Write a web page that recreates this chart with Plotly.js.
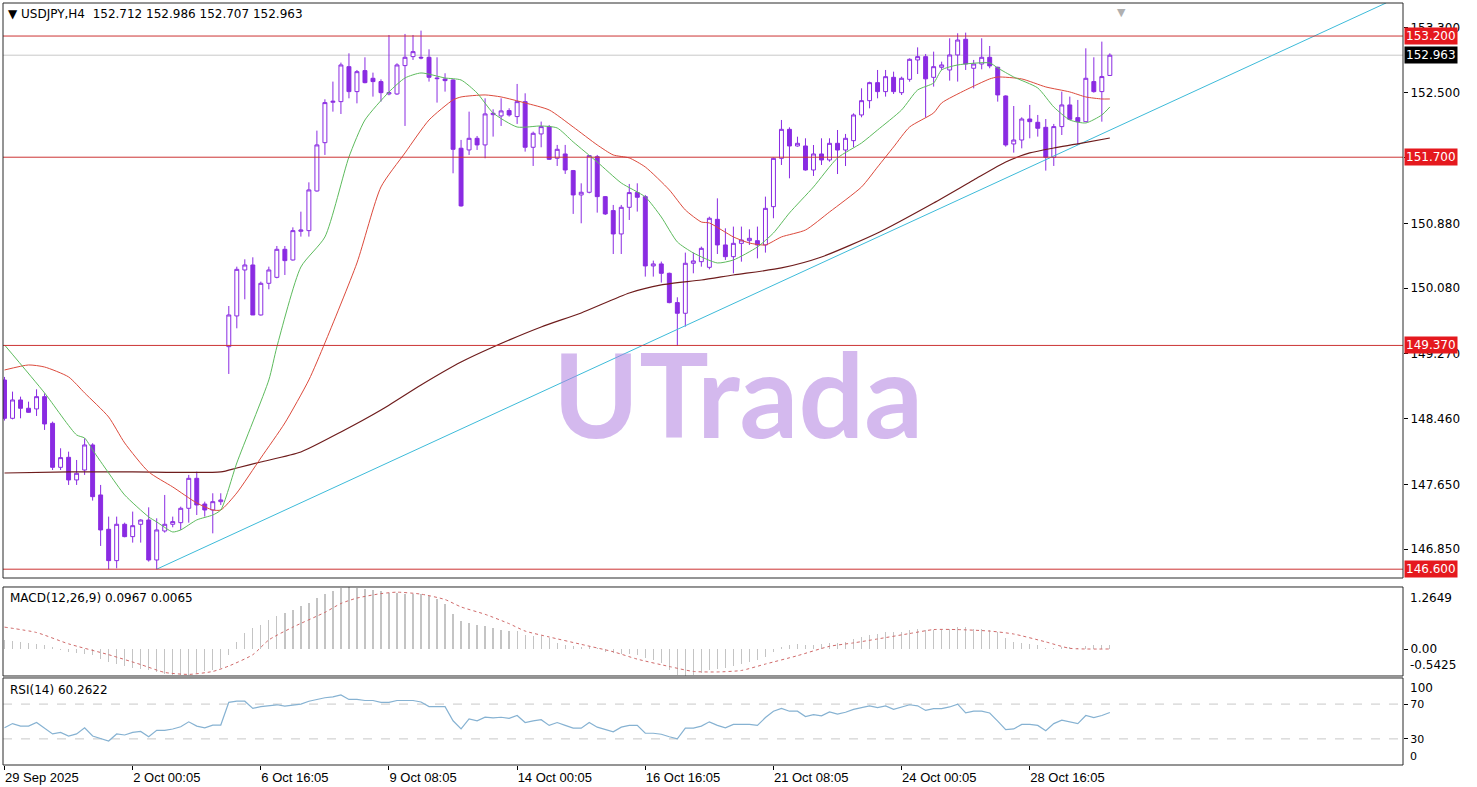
<!DOCTYPE html>
<html><head><meta charset="utf-8">
<script src="https://cdn.plot.ly/plotly-3.0.1.min.js"></script>
<style>html,body{margin:0;padding:0;background:#fff;overflow:hidden}#chart{width:1477px;height:787px}</style>
</head><body><div id="chart"></div>
<script>
// ---- USDJPY H4 candles (bar index 0..138) ----
const open = [148.942,148.468,148.695,148.592,148.584,148.736,148.406,147.861,147.985,147.705,147.828,148.138,147.519,147.094,146.706,147.156,147.003,147.156,147.209,146.714,147.073,147.156,147.176,147.354,147.725,147.407,147.333,147.436,149.355,149.735,150.304,150.366,149.747,150.139,150.213,150.560,150.428,150.783,150.791,151.282,151.880,152.380,152.388,152.821,152.512,152.772,152.677,152.636,152.483,152.483,152.834,152.945,152.937,152.937,152.681,152.669,152.656,151.811,151.790,151.934,151.852,152.227,152.211,152.277,152.203,152.388,151.823,151.988,152.079,151.687,151.740,151.534,151.233,151.266,151.707,151.212,151.039,150.750,151.080,151.262,151.212,150.354,150.379,150.263,149.900,149.768,150.387,150.407,150.337,150.931,150.614,150.469,150.634,150.667,150.667,150.614,151.088,151.686,152.045,151.839,151.839,151.542,151.740,151.666,151.872,151.789,151.905,152.223,152.400,152.623,152.512,152.689,152.499,152.664,152.904,152.945,152.689,152.813,152.780,152.966,153.160,152.801,152.854,152.937,152.813,152.458,151.864,151.913,152.173,152.132,152.070,151.699,152.079,152.347,152.190,152.140,152.636,152.512,152.712];
const high = [148.980,148.798,148.736,148.674,148.827,148.777,148.427,148.097,148.055,147.952,148.220,148.159,147.643,147.251,147.251,147.176,147.313,147.218,147.366,147.230,147.519,147.251,147.374,147.767,147.808,147.436,147.540,147.540,149.858,150.345,150.436,150.461,150.160,150.345,150.601,150.601,150.832,151.026,151.389,152.029,152.417,152.636,152.871,152.986,152.780,152.937,152.747,152.664,153.213,152.863,153.226,153.213,153.267,153.036,152.937,152.739,152.665,151.914,152.264,151.963,152.429,152.293,152.429,152.306,152.607,152.491,152.017,152.141,152.099,151.852,151.852,151.542,151.377,151.728,151.728,151.220,151.109,151.109,151.369,151.377,151.233,150.420,150.408,150.271,149.966,150.519,150.519,150.593,150.964,151.191,150.820,150.841,150.841,150.808,150.841,151.212,151.695,152.161,152.070,151.954,151.934,151.851,151.934,151.934,152.037,151.988,152.243,152.553,152.635,152.780,152.780,152.759,152.697,152.924,153.060,152.978,153.007,152.883,153.172,153.234,153.242,152.904,153.172,153.077,152.821,152.466,152.334,152.194,152.347,152.223,152.173,152.112,152.512,152.450,152.409,153.048,152.937,153.131,152.986];
const low = [148.440,148.455,148.468,148.538,148.497,148.324,147.828,147.828,147.643,147.643,147.767,147.449,146.888,146.599,146.611,146.995,146.929,146.929,146.694,146.599,147.053,147.119,147.086,147.176,147.271,147.251,147.044,147.395,149.017,149.582,149.941,149.747,149.740,150.065,150.201,150.242,150.420,150.717,150.717,151.274,151.728,152.264,152.235,152.429,152.367,152.615,152.450,152.388,152.466,152.471,152.087,152.904,152.912,152.636,152.376,152.512,151.501,151.088,151.728,151.790,151.687,151.955,152.087,152.203,152.112,151.769,151.592,151.823,151.666,151.592,151.493,150.998,150.882,151.253,151.014,150.985,150.502,150.502,150.923,151.027,150.222,150.222,150.148,149.892,149.364,149.603,150.263,150.345,150.312,150.502,150.428,150.263,150.407,150.614,150.448,150.519,150.944,151.604,151.439,151.831,151.534,151.468,151.604,151.645,151.492,151.591,151.822,152.194,152.305,152.429,152.450,152.483,152.470,152.635,152.730,152.190,152.574,152.780,152.648,152.636,152.780,152.553,152.788,152.801,152.388,151.831,151.757,151.810,151.934,151.955,151.534,151.592,151.975,152.161,151.852,152.140,152.499,152.140,152.707];
const close = [148.468,148.695,148.592,148.542,148.736,148.398,147.861,147.981,147.705,147.787,148.138,147.498,147.086,146.706,147.156,147.003,147.139,147.209,146.714,147.086,147.156,147.189,147.354,147.725,147.395,147.333,147.436,147.457,149.747,150.312,150.366,149.747,150.139,150.304,150.560,150.420,150.791,150.799,151.295,151.852,152.376,152.392,152.842,152.512,152.759,152.623,152.636,152.499,152.499,152.842,152.937,153.007,152.929,152.689,152.673,152.648,151.798,151.097,151.934,151.852,152.236,152.244,152.273,152.223,152.388,151.823,151.996,152.079,151.674,151.798,151.542,151.233,151.266,151.720,151.212,150.998,150.750,151.080,151.262,151.204,150.354,150.379,150.263,149.900,149.768,150.387,150.416,150.572,150.944,150.614,150.469,150.634,150.675,150.696,150.614,151.067,151.686,152.045,151.839,151.872,151.542,151.740,151.666,151.872,151.789,151.934,152.223,152.400,152.623,152.512,152.697,152.512,152.677,152.912,152.945,152.670,152.821,152.842,152.966,153.151,152.854,152.854,152.937,152.830,152.471,151.852,151.913,152.173,152.140,152.058,151.699,152.079,152.347,152.169,152.140,152.677,152.512,152.698,152.963];

// ---- moving averages (bar index, price) ----
const fastMaBars = [0,5,9,10,11,13,15,18,19,21,22,24,26,27,29,33,34,37,40,43,45,48,50,52,55,57,59,61,64,67,69,71,74,77,80,82,84,86,89,91,94,96,98,101,104,107,109,112,114,116,117,119,123,124,126,129,131,133,135,137,138];
const fastMa = [149.376,148.782,148.262,148.224,148.076,147.791,147.519,147.247,147.185,147.061,147.086,147.210,147.271,147.333,147.915,148.943,149.351,150.341,150.713,151.703,152.161,152.508,152.681,152.743,152.681,152.656,152.495,152.248,152.074,152.087,152.062,151.889,151.641,151.381,151.208,150.960,150.651,150.515,150.391,150.428,150.589,150.762,151.010,151.332,151.691,151.876,152.037,152.285,152.532,152.619,152.780,152.842,152.867,152.805,152.693,152.557,152.322,152.161,152.124,152.223,152.322];
const midMaBars = [0,3,5,8,10,13,15,18,21,24,26,27,29,32,35,38,40,44,47,50,53,56,57,60,62,65,68,71,74,76,78,80,83,85,87,88,91,93,95,97,100,103,107,109,111,113,116,117,120,123,124,127,130,133,135,137,138];
const midMa = [149.066,149.128,149.103,148.980,148.782,148.484,148.163,147.804,147.618,147.420,147.333,147.333,147.544,147.977,148.410,148.943,149.401,150.391,151.332,151.753,152.161,152.409,152.446,152.471,152.446,152.372,152.285,152.074,151.852,151.728,151.691,151.579,151.295,151.047,150.898,150.886,150.713,150.638,150.614,150.713,150.799,151.022,151.332,151.579,151.827,152.074,152.248,152.372,152.532,152.669,152.693,152.669,152.570,152.508,152.446,152.421,152.421];
const slowMaBars = [0,8,16,27,29,32,37,42,47,52,57,61,67,72,78,82,87,91,97,102,109,116,121,125,128,131,134,138];
const slowMa = [147.791,147.804,147.804,147.804,147.853,147.927,148.051,148.299,148.571,148.881,149.165,149.351,149.599,149.772,150.019,150.119,150.180,150.242,150.329,150.465,150.762,151.134,151.418,151.641,151.753,151.814,151.864,151.938];

// ---- trend line and levels ----
const trendBars = [19, 172.5];
const trendPrices = [146.600, 153.610];
const levels = [153.200, 151.700, 149.370, 146.600];
const levelText = ['153.200','151.700','149.370','146.600'];
const lastPrice = 152.963;

// ---- MACD(12,26,9) ----
const macdHist = [0.18,0.16,0.14,0.12,0.10,0.08,0.05,-0.02,-0.05,-0.08,-0.10,-0.12,-0.20,-0.26,-0.30,-0.34,-0.38,-0.40,-0.43,-0.47,-0.50,-0.52,-0.53,-0.52,-0.48,-0.45,-0.42,-0.38,-0.12,0.15,0.34,0.44,0.50,0.60,0.68,0.73,0.80,0.88,0.95,1.05,1.13,1.18,1.24,1.2649,1.25,1.22,1.20,1.18,1.15,1.15,1.13,1.12,1.12,1.08,1.03,0.92,0.72,0.57,0.53,0.50,0.47,0.44,0.40,0.37,0.37,0.30,0.26,0.26,0.22,0.12,0.08,0.06,0.05,0.06,0.03,-0.05,-0.08,-0.10,-0.10,-0.12,-0.18,-0.22,-0.28,-0.42,-0.52,-0.5425,-0.52,-0.48,-0.42,-0.40,-0.38,-0.34,-0.30,-0.26,-0.22,-0.15,-0.05,0.05,0.08,0.10,0.08,0.09,0.10,0.12,0.12,0.14,0.20,0.25,0.30,0.32,0.35,0.35,0.36,0.40,0.42,0.40,0.40,0.40,0.42,0.45,0.45,0.42,0.42,0.40,0.35,0.22,0.15,0.12,0.10,0.08,0.03,0.02,0.04,0.05,0.03,0.07,0.08,0.08,0.0967];
const signalBars = [0,4,8,13,17,20,23,26,28,31,33,36,40,42,44,47,49,52,55,57,60,63,65,68,72,76,79,83,86,89,92,95,99,103,106,109,113,116,119,123,126,130,133,138];
const signal = [0.45,0.34,0.11,-0.11,-0.31,-0.47,-0.51,-0.45,-0.34,-0.11,0.19,0.45,0.75,0.93,1.04,1.13,1.16,1.12,1.01,0.86,0.71,0.52,0.37,0.25,0.10,-0.05,-0.20,-0.35,-0.45,-0.46,-0.43,-0.30,-0.13,0.06,0.13,0.21,0.32,0.40,0.40,0.37,0.31,0.15,0.02,0.0065];

// ---- RSI(14) ----
const rsi = [42.7,47.6,44.7,44.7,48.8,42.7,35.7,37.4,33.3,35.7,42.7,33.3,30.4,27.6,35.7,34.5,37.4,38.6,32.5,39.8,39.8,41.4,43.9,49.6,44.7,42.7,45.9,45.9,72.0,73.3,73.3,65.1,67.1,68.0,69.2,67.6,69.2,70.0,73.3,75.3,77.3,78.2,80.6,75.3,75.3,74.1,74.1,72.0,72.0,74.1,74.1,74.1,72.4,67.1,67.1,67.1,50.8,41.4,52.9,50.8,54.9,54.1,54.9,53.7,56.9,48.8,50.8,52.0,45.5,48.8,45.5,42.3,42.3,48.8,43.5,40.6,38.2,43.5,45.5,45.5,36.5,36.5,35.3,32.5,30.0,42.3,42.3,44.7,49.6,45.5,42.7,46.7,46.7,46.7,45.5,54.5,61.8,65.1,61.8,61.8,55.7,57.8,56.5,61.0,58.6,60.6,63.9,65.9,68.0,65.9,68.0,63.9,66.7,69.2,68.0,62.7,64.7,64.7,66.7,70.0,59.8,61.8,61.8,59.8,50.4,40.6,41.4,46.7,46.7,45.5,39.4,47.6,51.6,49.6,47.6,56.9,54.5,56.9,60.2622];
const rsiLevels = [70, 30];

// ---- axis labels ----
const xTickBars = [0,16,32,48,64,80,96,112,128];
const xTickText = ['29 Sep 2025','2 Oct 00:05','6 Oct 16:05','9 Oct 08:05','14 Oct 00:05','16 Oct 16:05','21 Oct 08:05','24 Oct 00:05','28 Oct 16:05'];
const priceTicks = [153.300,152.500,151.700,150.880,150.080,149.270,148.460,147.650,146.850];

const bars = open.map((_, i) => i);
const PURPLE = '#8A2BE2';
const AXF = {family:'DejaVu Sans, Verdana, sans-serif', size:12, color:'#000'};

const traces = [
  {type:'scatter', mode:'lines', x:trendBars, y:trendPrices, xaxis:'x', yaxis:'y',
   line:{color:'#3dbbd9', width:1}, hoverinfo:'skip'},
  {type:'scatter', mode:'lines', x:slowMaBars, y:slowMa, xaxis:'x', yaxis:'y',
   line:{color:'#6e1c1c', width:1.2, shape:'spline', smoothing:0.6}, hoverinfo:'skip'},
  {type:'scatter', mode:'lines', x:midMaBars, y:midMa, xaxis:'x', yaxis:'y',
   line:{color:'#dc4a3c', width:1, shape:'spline', smoothing:0.6}, hoverinfo:'skip'},
  {type:'scatter', mode:'lines', x:fastMaBars, y:fastMa, xaxis:'x', yaxis:'y',
   line:{color:'#5dbb5d', width:1, shape:'spline', smoothing:0.6}, hoverinfo:'skip'},
  {type:'candlestick', x:bars, open:open, high:high, low:low, close:close, xaxis:'x', yaxis:'y',
   increasing:{line:{color:PURPLE, width:1}, fillcolor:'#ffffff'},
   decreasing:{line:{color:PURPLE, width:1}, fillcolor:PURPLE},
   whiskerwidth:0, hoverinfo:'skip'},
  {type:'bar', x:bars, y:macdHist, xaxis:'x', yaxis:'y2', width:0.16,
   marker:{color:'#c4c4c4', line:{width:0}}, hoverinfo:'skip'},
  {type:'scatter', mode:'lines', x:signalBars, y:signal, xaxis:'x', yaxis:'y2',
   line:{color:'#d06a6a', width:1, dash:'dot', shape:'spline', smoothing:0.6}, hoverinfo:'skip'},
  {type:'scatter', mode:'lines', x:bars, y:rsi, xaxis:'x', yaxis:'y3',
   line:{color:'#86b2d2', width:1.2}, hoverinfo:'skip'}
];

const shapes = [];
levels.forEach(v => shapes.push({type:'line', xref:'x domain', x0:0, x1:1, yref:'y', y0:v, y1:v,
  line:{color:'#cc3333', width:1}, layer:'above'}));
shapes.push({type:'line', xref:'x domain', x0:0, x1:1, yref:'y', y0:lastPrice, y1:lastPrice,
  line:{color:'#c8c8c8', width:1}, layer:'below'});
rsiLevels.forEach(v => shapes.push({type:'line', xref:'x domain', x0:0, x1:1, yref:'y3', y0:v, y1:v,
  line:{color:'#c8c8c8', width:1, dash:'dash'}, layer:'below'}));
['y domain','y2 domain','y3 domain'].forEach(yr => shapes.push({type:'rect', xref:'x domain', x0:0, x1:1,
  yref:yr, y0:0, y1:1, line:{color:'#2a2a2a', width:1}, fillcolor:'rgba(0,0,0,0)', layer:'above'}));

const annotations = [
  {xref:'paper', x:0, xanchor:'left', xshift:3, yref:'paper', y:1, yanchor:'middle', yshift:-11,
   text:'▼ USDJPY,H4  152.712 152.986 152.707 152.963', showarrow:false,
   font:{family:'DejaVu Sans, Verdana, sans-serif', size:12, color:'#000'}},
  {xref:'paper', x:0, xanchor:'left', xshift:5, yref:'y2 domain', y:1, yanchor:'middle', yshift:-11,
   text:'MACD(12,26,9) 0.0967 0.0065', showarrow:false,
   font:{family:'DejaVu Sans, Verdana, sans-serif', size:12, color:'#000'}},
  {xref:'paper', x:0, xanchor:'left', xshift:5, yref:'y3 domain', y:1, yanchor:'middle', yshift:-12,
   text:'RSI(14) 60.2622', showarrow:false,
   font:{family:'DejaVu Sans, Verdana, sans-serif', size:12, color:'#000'}},
  {xref:'paper', x:0.525, xanchor:'center', yref:'paper', y:0.488, yanchor:'middle',
   text:'UTrada', showarrow:false,
   font:{family:'Lato, Open Sans, sans-serif', size:116, weight:700, color:'rgba(176,128,224,0.55)'}},
  {xref:'paper', x:0.799, xanchor:'center', yref:'paper', y:1, yanchor:'top', yshift:-1,
   text:'▼', showarrow:false, font:{family:'DejaVu Sans', size:11, color:'#b0b0b0'}},
  {xref:'paper', x:1, xanchor:'left', xshift:5, yref:'y2 domain', y:1, yanchor:'middle', yshift:-11,
   text:'1.2649', showarrow:false, font:AXF},
  {xref:'paper', x:1, xanchor:'left', xshift:5, yref:'y2 domain', y:0, yanchor:'middle', yshift:11,
   text:'-0.5425', showarrow:false, font:AXF},
  {xref:'paper', x:1, xanchor:'left', xshift:5, yref:'y3 domain', y:1, yanchor:'middle', yshift:-10,
   text:'100', showarrow:false, font:AXF},
  {xref:'paper', x:1, xanchor:'left', xshift:5, yref:'y3 domain', y:0, yanchor:'middle', yshift:9,
   text:'0', showarrow:false, font:{family:'DejaVu Sans, Verdana, sans-serif', size:11, color:'#000'}}
];
levels.forEach((v, i) => annotations.push({xref:'paper', x:1, xanchor:'left', xshift:1, yref:'y', y:v,
  yanchor:'middle', text:levelText[i], showarrow:false, bgcolor:'#e5191e', borderpad:1,
  font:{family:'DejaVu Sans, Verdana, sans-serif', size:12, color:'#ffffff'}}));
annotations.push({xref:'paper', x:1, xanchor:'left', xshift:1, yref:'y', y:lastPrice, yanchor:'middle',
  text:lastPrice.toFixed(3), showarrow:false, bgcolor:'#000000', borderpad:1,
  font:{family:'DejaVu Sans, Verdana, sans-serif', size:12, color:'#ffffff'}});

// tick labels hidden under a level box in the reference are left blank
const priceTickText = priceTicks.map(v => levels.includes(v) ? '' : v.toFixed(3));

const layout = {
  width:1477, height:787,
  margin:{l:3, r:74, t:3, b:22},
  paper_bgcolor:'#ffffff', plot_bgcolor:'#ffffff',
  showlegend:false,
  xaxis:{anchor:'y3', range:[-0.19, 174.6], showgrid:false, zeroline:false,
    tickvals:xTickBars, ticktext:xTickText, ticks:'outside', ticklen:4, tickcolor:'#000',
    ticklabelposition:'outside right',
    tickfont:{family:'Liberation Sans, Arial, sans-serif', size:13, color:'#000'},
    rangeslider:{visible:false}, fixedrange:true},
  yaxis:{domain:[0.2454,1], range:[146.491,153.609], side:'right', showgrid:false, zeroline:false,
    tickvals:priceTicks, ticktext:priceTickText, ticks:'outside', ticklen:4,
    tickcolor:'#000', tickfont:AXF, fixedrange:true},
  yaxis2:{domain:[0.1168,0.2336], range:[-0.5425,1.2649], side:'right', anchor:'x', showgrid:false,
    zeroline:false, tickvals:[0], ticktext:['0.00'], ticks:'outside', ticklen:4, tickcolor:'#000',
    tickfont:AXF, fixedrange:true},
  yaxis3:{domain:[0,0.1142], range:[0,100], side:'right', anchor:'x', showgrid:false, zeroline:false,
    tickvals:rsiLevels, ticktext:rsiLevels.map(String), ticks:'outside', ticklen:4, tickcolor:'#000',
    tickfont:{family:'DejaVu Sans, Verdana, sans-serif', size:11, color:'#000'}, fixedrange:true},
  bargap:0,
  shapes:shapes,
  annotations:annotations
};

Plotly.newPlot('chart', traces, layout, {displayModeBar:false, staticPlot:true});
</script></body></html>
